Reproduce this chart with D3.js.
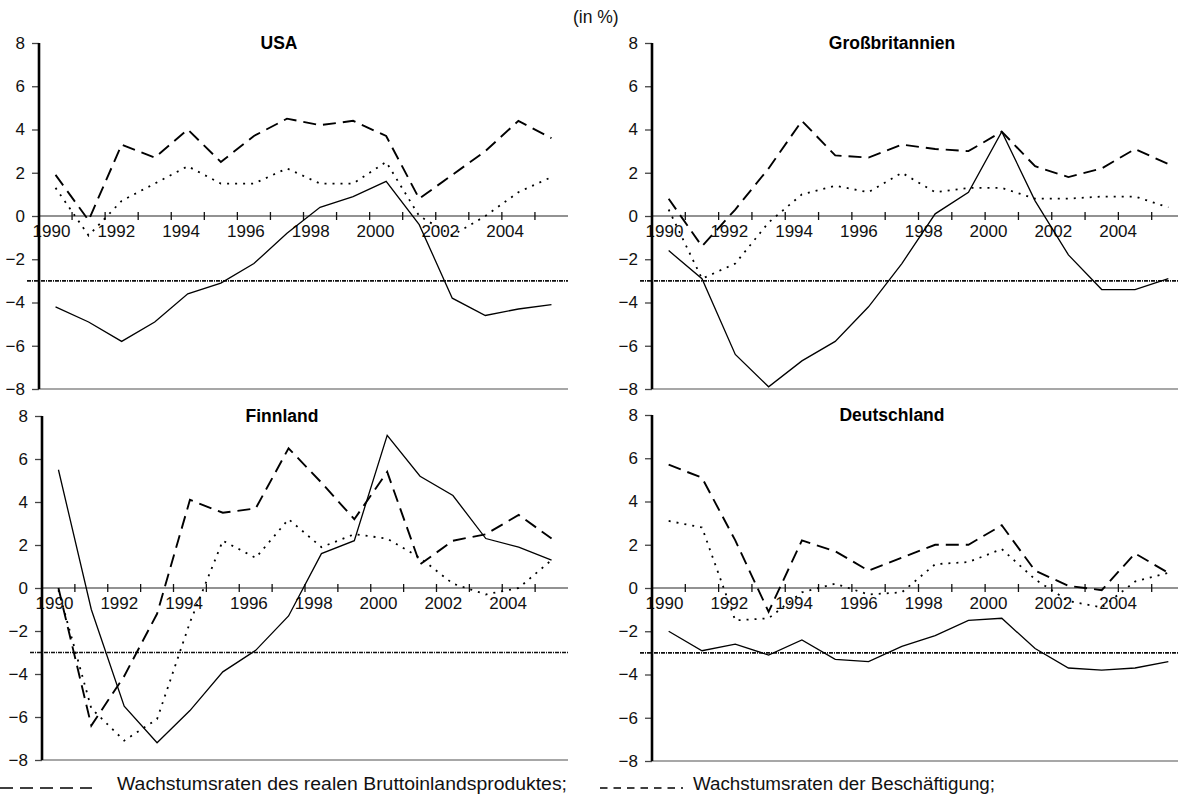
<!DOCTYPE html>
<html>
<head>
<meta charset="utf-8">
<script src="https://cdn.jsdelivr.net/npm/d3@7"></script>
<style>
  html, body { margin: 0; padding: 0; background: #fff; }
  svg { display: block; font-family: "Liberation Sans", Arial, Helvetica, sans-serif; }
</style>
</head>
<body>
<svg id="chart" width="1178" height="794"></svg>
<script>
// Jahre 1990–2005
const years = d3.range(1990, 2006);
const yearLabels = [1990, 1992, 1994, 1996, 1998, 2000, 2002, 2004];
const yTicks = [-8, -6, -4, -2, 0, 2, 4, 6, 8];
const deficitLimit = -3;

// USA
const usaGDP     = [1.9, -0.2, 3.3, 2.7, 4.0, 2.5, 3.7, 4.5, 4.2, 4.4, 3.7, 0.8, 1.9, 3.0, 4.4, 3.6];
const usaEmp     = [1.3, -0.9, 0.7, 1.5, 2.3, 1.5, 1.5, 2.2, 1.5, 1.5, 2.5, 0.0, -0.9, 0.0, 1.1, 1.8];
const usaBalance = [-4.2, -4.9, -5.8, -4.9, -3.6, -3.1, -2.2, -0.8, 0.4, 0.9, 1.6, -0.4, -3.8, -4.6, -4.3, -4.1];

// Großbritannien
const gbrGDP     = [0.8, -1.4, 0.3, 2.2, 4.4, 2.8, 2.7, 3.3, 3.1, 3.0, 3.9, 2.3, 1.8, 2.2, 3.1, 2.4];
const gbrEmp     = [0.3, -2.9, -2.2, -0.3, 1.0, 1.4, 1.1, 2.0, 1.1, 1.3, 1.3, 0.8, 0.8, 0.9, 0.9, 0.4];
const gbrBalance = [-1.6, -2.9, -6.4, -7.9, -6.7, -5.8, -4.2, -2.2, 0.1, 1.1, 3.9, 0.7, -1.8, -3.4, -3.4, -2.9];

// Finnland
const finGDP     = [0.0, -6.4, -4.1, -1.2, 4.1, 3.5, 3.7, 6.5, 4.9, 3.2, 5.4, 1.1, 2.2, 2.5, 3.4, 2.3];
const finEmp     = [-0.1, -5.6, -7.1, -6.1, -1.6, 2.2, 1.4, 3.2, 1.9, 2.5, 2.3, 1.4, 0.2, -0.3, 0.0, 1.3];
const finBalance = [5.5, -1.0, -5.5, -7.2, -5.7, -3.9, -2.9, -1.3, 1.6, 2.2, 7.1, 5.2, 4.3, 2.3, 1.9, 1.3];

// Deutschland
const deuGDP     = [5.7, 5.1, 2.2, -1.1, 2.2, 1.7, 0.8, 1.4, 2.0, 2.0, 2.9, 0.8, 0.1, -0.1, 1.6, 0.7];
const deuEmp     = [3.1, 2.8, -1.5, -1.4, -0.2, 0.2, -0.3, -0.2, 1.1, 1.2, 1.8, 0.4, -0.6, -0.9, 0.3, 0.7];
const deuBalance = [-2.0, -2.9, -2.6, -3.1, -2.4, -3.3, -3.4, -2.7, -2.2, -1.5, -1.4, -2.8, -3.7, -3.8, -3.7, -3.4];

const legendGDP = "Wachstumsraten des realen Bruttoinlandsproduktes;";
const legendEmp = "Wachstumsraten der Beschäftigung;";
const unitLabel = "(in %)";

const panels = [
  { title: "USA",            gdp: usaGDP, emp: usaEmp, bal: usaBalance, left: 39,  right: 568,  top: 43,  bottom: 389 },
  { title: "Großbritannien", gdp: gbrGDP, emp: gbrEmp, bal: gbrBalance, left: 652, right: 1185, top: 43,  bottom: 389 },
  { title: "Finnland",       gdp: finGDP, emp: finEmp, bal: finBalance, left: 42,  right: 568,  top: 416, bottom: 760 },
  { title: "Deutschland",    gdp: deuGDP, emp: deuEmp, bal: deuBalance, left: 652, right: 1185, top: 415, bottom: 761 }
];

const svg = d3.select("#chart");

svg.append("text")
  .attr("x", 573).attr("y", 23)
  .attr("font-size", 17.5)
  .attr("fill", "#111")
  .text(unitLabel);

panels.forEach(p => {
  const g = svg.append("g");
  const x = d3.scaleBand().domain(years).range([p.left, p.right]).paddingInner(0).paddingOuter(0);
  const y = d3.scaleLinear().domain([-8, 8]).range([p.bottom, p.top]);
  const cx = yr => x(yr) + x.bandwidth() / 2;
  // Jahresbeschriftungen laufen etwas enger als die Kategorien
  const xLabel = d3.scaleLinear().domain([1990, 2004]).range([p.left + 12.5, p.left + 12.5 + 14 * 32.4]);

  // untere Begrenzung bei -8
  g.append("line")
    .attr("x1", p.left).attr("x2", p.right)
    .attr("y1", y(-8)).attr("y2", y(-8))
    .attr("stroke", "#8a8a8a").attr("stroke-width", 1.6);

  // Nulllinie mit Jahresstrichen
  g.append("line")
    .attr("x1", p.left).attr("x2", p.right)
    .attr("y1", y(0)).attr("y2", y(0))
    .attr("stroke", "#6e6e6e").attr("stroke-width", 1.4);

  const boundaries = years.slice(1).map(yr => x(yr));
  g.selectAll(".xt").data(boundaries).join("line")
    .attr("x1", d => d).attr("x2", d => d)
    .attr("y1", y(0) - 4).attr("y2", y(0) + 4)
    .attr("stroke", "#111").attr("stroke-width", 1.3);

  g.selectAll(".xl").data(yearLabels).join("text")
    .attr("x", d => xLabel(d))
    .attr("y", y(0) + 21)
    .attr("text-anchor", "middle")
    .attr("font-size", 17)
    .attr("fill", "#111")
    .text(d => d);

  // y-Achse
  const yAxis = d3.axisLeft(y).tickValues(yTicks).tickSize(7).tickPadding(7).tickFormat(d3.format("d"));
  const ya = g.append("g").attr("transform", `translate(${p.left},0)`).call(yAxis);
  ya.select(".domain").remove();
  ya.selectAll(".tick line").attr("stroke", "#444").attr("stroke-width", 1.3);
  ya.selectAll(".tick text").attr("font-size", 17).attr("fill", "#111")
    .attr("font-family", "'Liberation Sans', Arial, sans-serif");
  g.append("line")
    .attr("x1", p.left).attr("x2", p.left)
    .attr("y1", y(8)).attr("y2", y(-8))
    .attr("stroke", "#000").attr("stroke-width", 2.6);

  // Referenzlinie -3 %
  g.append("line")
    .attr("x1", p.left - 12).attr("x2", p.right)
    .attr("y1", y(deficitLimit)).attr("y2", y(deficitLimit))
    .attr("stroke", "#111").attr("stroke-width", 1.7)
    .attr("stroke-dasharray", "4,1,1,1");

  const line = d3.line().x((d, i) => cx(years[i])).y(d => y(d));

  g.append("path").datum(p.bal)
    .attr("d", line).attr("fill", "none")
    .attr("stroke", "#000").attr("stroke-width", 1.3);

  g.append("path").datum(p.emp)
    .attr("d", line).attr("fill", "none")
    .attr("stroke", "#000").attr("stroke-width", 1.8)
    .attr("stroke-dasharray", "2,6");

  g.append("path").datum(p.gdp)
    .attr("d", line).attr("fill", "none")
    .attr("stroke", "#000").attr("stroke-width", 1.9)
    .attr("stroke-dasharray", "13,7");

  g.append("text")
    .attr("x", p.left + 240)
    .attr("y", y(8) + 6)
    .attr("text-anchor", "middle")
    .attr("font-size", 17.5)
    .attr("font-weight", "bold")
    .attr("fill", "#000")
    .text(p.title);
});

// Legende
const legend = svg.append("g");
legend.append("line")
  .attr("x1", 0).attr("x2", 92).attr("y1", 788).attr("y2", 788)
  .attr("stroke", "#000").attr("stroke-width", 1.5).attr("stroke-dasharray", "13,7");
legend.append("text")
  .attr("x", 117).attr("y", 790)
  .attr("font-size", 17.5)
  .attr("textLength", 450).attr("lengthAdjust", "spacingAndGlyphs")
  .attr("fill", "#111")
  .text(legendGDP);
legend.append("line")
  .attr("x1", 600).attr("x2", 683).attr("y1", 788).attr("y2", 788)
  .attr("stroke", "#000").attr("stroke-width", 1.5).attr("stroke-dasharray", "7.5,6");
legend.append("text")
  .attr("x", 693).attr("y", 790)
  .attr("font-size", 17.5)
  .attr("textLength", 302).attr("lengthAdjust", "spacingAndGlyphs")
  .attr("fill", "#111")
  .text(legendEmp);
</script>
</body>
</html>
